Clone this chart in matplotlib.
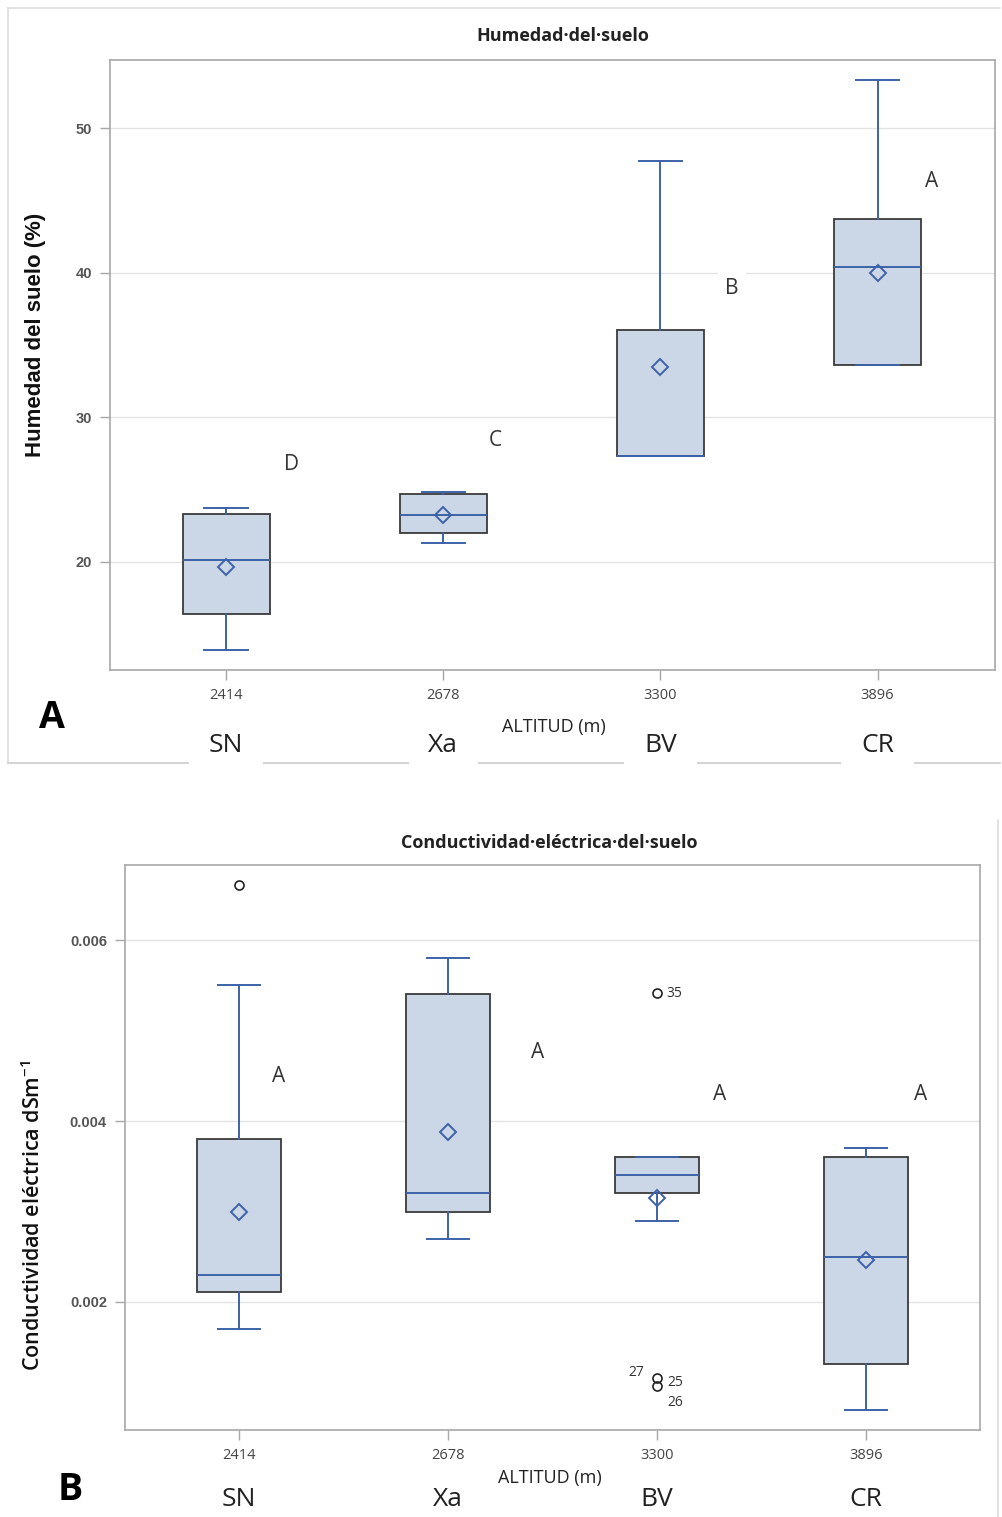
import matplotlib
matplotlib.use("Agg")
import matplotlib.pyplot as plt
from matplotlib.lines import Line2D
from matplotlib import font_manager as fm

names = {f.name for f in fm.fontManager.ttflist}
NARROW = ['Liberation Sans Narrow', 'Open Sans', 'DejaVu Sans'] if 'Liberation Sans Narrow' in names else ['Open Sans', 'DejaVu Sans']
ARIAL = ['Liberation Sans', 'DejaVu Sans']

# ---------------- data ----------------
altitudes = ["2414", "2678", "3300", "3896"]
sites = ["SN", "Xa", "BV", "CR"]

# Panel A: Humedad del suelo (%)
hum_whislo = [13.9, 21.3, 27.3, 33.6]
hum_q1 = [16.4, 22.0, 27.3, 33.6]
hum_med = [20.1, 23.2, 27.3, 40.4]
hum_q3 = [23.3, 24.7, 36.0, 43.7]
hum_whishi = [23.7, 24.8, 47.7, 53.3]
hum_mean = [19.6, 23.2, 33.5, 40.0]
hum_letters = ["D", "C", "B", "A"]
hum_letter_y = [26.7, 28.4, 38.9, 46.3]

# Panel B: Conductividad eléctrica
ce_whislo = [0.0017, 0.0027, 0.0029, 0.00081]
ce_q1 = [0.00211, 0.0030, 0.0032, 0.00131]
ce_med = [0.0023, 0.0032, 0.0034, 0.0025]
ce_q3 = [0.0038, 0.0054, 0.0036, 0.0036]
ce_whishi = [0.0055, 0.0058, 0.0036, 0.0037]
ce_mean = [0.00299, 0.00388, 0.00315, 0.00246]
ce_fliers = [[0.00661], [], [0.00541, 0.00116, 0.00107], []]
ce_letters = ["A", "A", "A", "A"]
ce_letter_y = [0.00449, 0.00476, 0.00429, 0.00429]
ce_flier_labels = ["35", "27", "25", "26"]
ce_flier_label_y = [0.00541, 0.00122, 0.00111, 0.00089]

BLUE = '#3d62a8'
FILL = '#cbd6e7'
EDGE = '#3a3a3a'
GRID = '#e3e3e3'
FRAME = '#a8a8a8'
TXT = '#444444'

fig = plt.figure(figsize=(10.02, 15.17), dpi=100)
fig.patch.set_facecolor('white')


def make_stats(lo, q1, med, q3, hi, mean, fliers=None):
    out = []
    for i in range(len(q1)):
        out.append(dict(whislo=lo[i], q1=q1[i], med=med[i], q3=q3[i], whishi=hi[i],
                        mean=mean[i], fliers=(fliers[i] if fliers else [])))
    return out


def draw_panel(ax, stats):
    ax.bxp(stats, positions=range(len(stats)), widths=0.4, patch_artist=True,
           showmeans=True, showfliers=True,
           boxprops=dict(facecolor=FILL, edgecolor=EDGE, linewidth=1.3),
           whiskerprops=dict(color=BLUE, linewidth=1.4),
           capprops=dict(color=BLUE, linewidth=1.4),
           medianprops=dict(color=BLUE, linewidth=1.4),
           meanprops=dict(marker='D', markerfacecolor='none', markeredgecolor=BLUE,
                          markersize=8, markeredgewidth=1.4),
           flierprops=dict(marker='o', markerfacecolor='none', markeredgecolor='#222222',
                           markersize=6.5, markeredgewidth=1.2))
    ax.set_axisbelow(True)
    ax.yaxis.grid(True, color=GRID, linewidth=1.0)
    ax.xaxis.grid(False)
    for s in ax.spines.values():
        s.set_color(FRAME)
        s.set_linewidth(1.2)
    ax.set_xticks(range(len(altitudes)))
    ax.set_xticklabels(altitudes, fontsize=10.5, color=TXT, family=NARROW)
    ax.tick_params(axis='both', color=FRAME, length=7, width=1.0, pad=6)
    for i, s in enumerate(sites):
        ax.text(i, -0.123, s, transform=ax.get_xaxis_transform(), ha='center', va='center',
                fontsize=19, color='#222222', family=NARROW,
                bbox=dict(boxstyle='square,pad=0.75', facecolor='white', edgecolor='none'))


# ---------------- Panel A ----------------
axA = fig.add_axes([0.1098, 0.5583, 0.883, 0.4021])
draw_panel(axA, make_stats(hum_whislo, hum_q1, hum_med, hum_q3, hum_whishi, hum_mean))
axA.set_xlim(-0.535, 3.54)
axA.set_ylim(12.5, 54.7)
axA.set_yticks([20, 30, 40, 50])
axA.set_yticklabels(["20", "30", "40", "50"], family=ARIAL, fontsize=10.5, color='#555555', fontweight='bold')
axA.set_ylabel("Humedad del suelo (%)", fontsize=16, fontweight='bold', family=ARIAL, color='#111111')
axA.yaxis.set_label_coords(-0.072, 0.55)
hum_letter_x = [0.30, 1.24, 2.33, 3.25]
for x, y, t in zip(hum_letter_x, hum_letter_y, hum_letters):
    axA.text(x, y, t, ha='center', va='center', fontsize=15, color='#333333', family=NARROW,
             bbox=dict(facecolor='white', edgecolor='none', pad=5))
axA.text(1.507, -0.093, "ALTITUD (m)", transform=axA.get_xaxis_transform(), ha='center', va='center',
         fontsize=13, color='#222222', family=NARROW)
fig.text(0.562, 1 - 36 / 1517, "Humedad·del·suelo", ha='center', va='center', fontsize=13,
         fontweight='bold', color='#222222', family=NARROW)
fig.text(0.052, 1 - 718 / 1517, "A", ha='center', va='center', fontsize=27, fontweight='bold',
         color='black', family=NARROW)

# ---------------- Panel B ----------------
axB = fig.add_axes([0.1248, 0.0574, 0.853, 0.3724])
draw_panel(axB, make_stats(ce_whislo, ce_q1, ce_med, ce_q3, ce_whishi, ce_mean, ce_fliers))
axB.set_xlim(-0.545, 3.545)
axB.set_ylim(0.000586, 0.00683)
axB.set_yticks([0.002, 0.004, 0.006])
axB.set_yticklabels(["0.002", "0.004", "0.006"], family=ARIAL, fontsize=10.5, color='#555555', fontweight='bold')
axB.set_ylabel("Conductividad eléctrica dSm$^{\\mathregular{-1}}$", fontsize=15.5, family=['Open Sans', 'DejaVu Sans'],
               fontweight='semibold', color='#111111')
axB.yaxis.set_label_coords(-0.094, 0.38)
ce_letter_x = [0.19, 1.43, 2.30, 3.26]
for x, y, t in zip(ce_letter_x, ce_letter_y, ce_letters):
    axB.text(x, y, t, ha='center', va='center', fontsize=15, color='#333333', family=NARROW)
ce_flier_label_x = [2.045, 1.94, 2.05, 2.05]
ce_flier_ha = ['left', 'right', 'left', 'left']
for x, y, t, h in zip(ce_flier_label_x, ce_flier_label_y, ce_flier_labels, ce_flier_ha):
    axB.text(x, y, t, ha=h, va='center', fontsize=10, color='#333333', family=NARROW)
axB.text(1.49, -0.085, "ALTITUD (m)", transform=axB.get_xaxis_transform(), ha='center', va='center',
         fontsize=13, color='#222222', family=NARROW)
fig.text(0.548, 1 - 843 / 1517, "Conductividad·eléctrica·del·suelo", ha='center', va='center', fontsize=13,
         fontweight='bold', color='#222222', family=NARROW)
fig.text(0.070, 1 - 1490 / 1517, "B", ha='center', va='center', fontsize=27, fontweight='bold',
         color='black', family=NARROW)

# screenshot frame lines
fig.add_artist(Line2D([8 / 1002, 1000 / 1002], [1 - 8 / 1517, 1 - 8 / 1517], color='#dddddd', lw=1.2, zorder=0))
fig.add_artist(Line2D([8 / 1002, 8 / 1002], [1 - 8 / 1517, 1 - 763 / 1517], color='#dddddd', lw=1.2, zorder=0))
fig.add_artist(Line2D([8 / 1002, 1000 / 1002], [1 - 763 / 1517, 1 - 763 / 1517], color='#cccccc', lw=1.2, zorder=0))
fig.add_artist(Line2D([998 / 1002, 998 / 1002], [1 - 820 / 1517, 0], color='#dddddd', lw=1.2, zorder=0))

fig.savefig("out.png", dpi=100, facecolor='white')
